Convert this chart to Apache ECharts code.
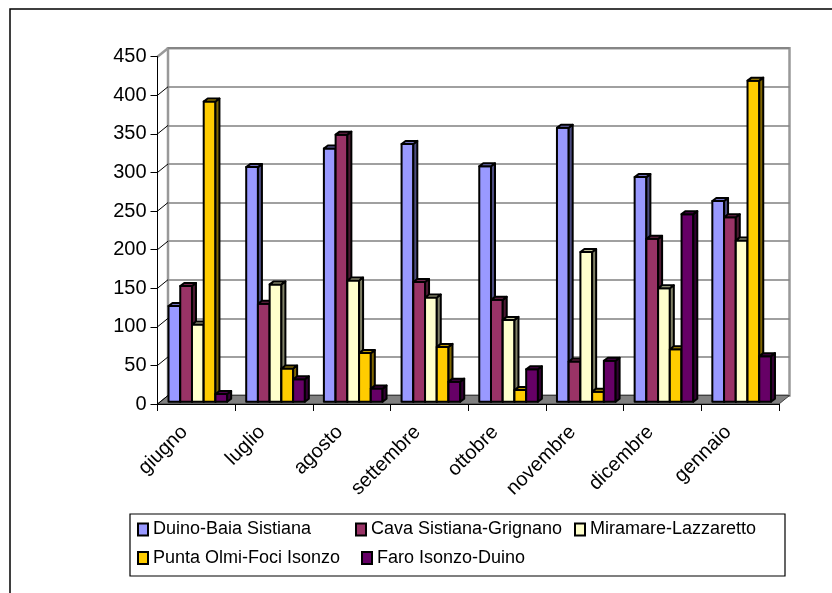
<!DOCTYPE html>
<html>
<head>
<meta charset="utf-8">
<script src="https://cdn.jsdelivr.net/npm/echarts@6/dist/echarts.min.js"></script>
<style>
html, body { margin: 0; padding: 0; background: #fff; }
#chart { width: 832px; height: 593px; }
</style>
</head>
<body>
<div id="chart"></div>
<script>
// dati
var months = ['giugno', 'luglio', 'agosto', 'settembre', 'ottobre', 'novembre', 'dicembre', 'gennaio'];
var duino = [124, 304, 328, 334, 305, 355, 291, 260];
var cava = [150, 127, 346, 155, 132, 52, 211, 239];
var miramare = [100, 152, 157, 135, 106, 194, 147, 209];
var punta = [389, 43, 63, 71, 15, 13, 68, 416];
var faro = [10, 29, 17, 26, 42, 53, 243, 59];
var yTicks = [0, 50, 100, 150, 200, 250, 300, 350, 400, 450];

var names = ['Duino-Baia Sistiana', 'Cava Sistiana-Grignano', 'Miramare-Lazzaretto', 'Punta Olmi-Foci Isonzo', 'Faro Isonzo-Duino'];
var values = [duino, cava, miramare, punta, faro];
var fronts = ['#9999FF', '#993366', '#FFFFCC', '#FFCC00', '#660066'];
var sides = ['#4C4C80', '#4D1A33', '#808066', '#806600', '#330033'];
var tops = ['#7373BF', '#73264D', '#BFBF99', '#BF9900', '#4D004D'];

var FONT = '"Liberation Sans", Arial, sans-serif';
var WALL_DX = 10.5, WALL_DY = -8.5;   // profondita' pareti
var BAR_DX = 4, BAR_DY = -3;          // profondita' barre

var chart = echarts.init(document.getElementById('chart'));

function barRenderer(s) {
    return function (params, api) {
        var i = api.value(0);
        var top = api.coord([i, api.value(1)]);
        var base = api.coord([i, 0]);
        var bw = api.size([1, 0])[0] * 0.151;
        var x0 = top[0] - bw * 2.5 + s * bw + 1.5;
        var yT = top[1] - 2.3, yB = base[1] - 2.3;
        var st = { stroke: '#000', lineWidth: 2, lineJoin: 'round' };
        return {
            type: 'group',
            children: [
                { type: 'rect', shape: { x: x0, y: yT, width: bw, height: yB - yT },
                  style: Object.assign({ fill: fronts[s] }, st) },
                { type: 'polygon', shape: { points: [[x0 + bw, yT], [x0 + bw + BAR_DX, yT + BAR_DY], [x0 + bw + BAR_DX, yB + BAR_DY], [x0 + bw, yB]] },
                  style: Object.assign({ fill: sides[s] }, st) },
                { type: 'polygon', shape: { points: [[x0, yT], [x0 + BAR_DX, yT + BAR_DY], [x0 + bw + BAR_DX, yT + BAR_DY], [x0 + bw, yT]] },
                  style: Object.assign({ fill: tops[s] }, st) }
            ]
        };
    };
}

function wallRenderer(params, api) {
    var cs = params.coordSys;
    var v = api.value(1);
    var p = api.coord([0, v]);
    var kids = [];
    if (params.dataIndex === 0) {
        var yb = cs.y + cs.height;
        kids.push({
            type: 'polygon',
            shape: { points: [[cs.x, yb], [cs.x + cs.width, yb], [cs.x + cs.width + WALL_DX, yb + WALL_DY], [cs.x + WALL_DX, yb + WALL_DY]] },
            style: { fill: '#808080', stroke: '#404040', lineWidth: 1 }
        });
    }
    kids.push({
        type: 'line',
        shape: { x1: cs.x, y1: p[1], x2: cs.x + WALL_DX, y2: p[1] + WALL_DY },
        style: { stroke: v === 450 ? '#999' : '#000', lineWidth: v === 450 ? 2.5 : 1 }
    });
    return { type: 'group', children: kids };
}

var legendLeft = [137, 355, 574, 137, 361];
var legendTop = [519.5, 519.5, 519.5, 548, 548];

var series = [{
    type: 'custom',
    name: 'pareti',
    xAxisIndex: 0,
    yAxisIndex: 0,
    z: 1,
    silent: true,
    renderItem: wallRenderer,
    data: yTicks.map(function (v) { return [0, v]; })
}];
names.forEach(function (n, s) {
    series.push({
        type: 'custom',
        name: n,
        xAxisIndex: 0,
        yAxisIndex: 0,
        z: 2,
        itemStyle: { color: fronts[s] },
        renderItem: barRenderer(s),
        encode: { x: 0, y: 1 },
        data: values[s].map(function (v, i) { return [i, v]; })
    });
});

var option = {
    animation: false,
    textStyle: { fontFamily: FONT },
    grid: [
        { left: 157.5, top: 56.7, width: 621.5, height: 347.3 },
        { left: 168, top: 48.2, width: 621.5, height: 347.3, show: true, borderColor: '#999', borderWidth: 2.5, backgroundColor: '#fff' },
        { left: 145.5, top: 56.7, width: 621.5, height: 347.3 }
    ],
    xAxis: [
        { gridIndex: 0, type: 'category', data: months, z: 5,
          axisLine: { lineStyle: { color: '#000', width: 1 } },
          axisTick: { show: true, length: 7, lineStyle: { color: '#000' } },
          axisLabel: { show: false } },
        { gridIndex: 1, type: 'category', data: months, show: false },
        { gridIndex: 2, type: 'category', data: months,
          axisLine: { show: false }, axisTick: { show: false },
          axisLabel: { rotate: 45, margin: 25, fontSize: 20, color: '#000', fontFamily: FONT } }
    ],
    yAxis: [
        { gridIndex: 0, type: 'value', min: 0, max: 450, interval: 50, z: 5,
          axisLine: { show: true, lineStyle: { color: '#000', width: 1 } },
          axisTick: { show: true, length: 7, lineStyle: { color: '#000' } },
          axisLabel: { fontSize: 20, margin: 11, color: '#000', fontFamily: FONT },
          splitLine: { show: false } },
        { gridIndex: 1, type: 'value', min: 0, max: 450, interval: 50,
          axisLine: { show: false }, axisTick: { show: false }, axisLabel: { show: false },
          splitLine: { lineStyle: { color: '#808080', width: 1.5 } } },
        { gridIndex: 2, type: 'value', min: 0, max: 450, show: false }
    ],
    legend: names.map(function (n, s) {
        return {
            data: [n],
            left: legendLeft[s],
            top: legendTop[s],
            padding: 0,
            icon: 'rect',
            itemWidth: 10,
            itemHeight: 12,
            itemStyle: { borderColor: '#000', borderWidth: 2 },
            selectedMode: false,
            textStyle: { fontSize: 18, color: '#000', fontFamily: FONT, lineHeight: 20 }
        };
    }),
    graphic: [
        { type: 'rect', shape: { x: 130, y: 514, width: 655, height: 62 },
          style: { fill: 'none', stroke: '#000', lineWidth: 1.2 }, z: 10 },
        { type: 'rect', shape: { x: 10, y: 9, width: 900, height: 700 },
          style: { fill: 'none', stroke: '#000', lineWidth: 1.5 }, z: 10 }
    ],
    series: series
};

chart.setOption(option);
</script>
</body>
</html>
